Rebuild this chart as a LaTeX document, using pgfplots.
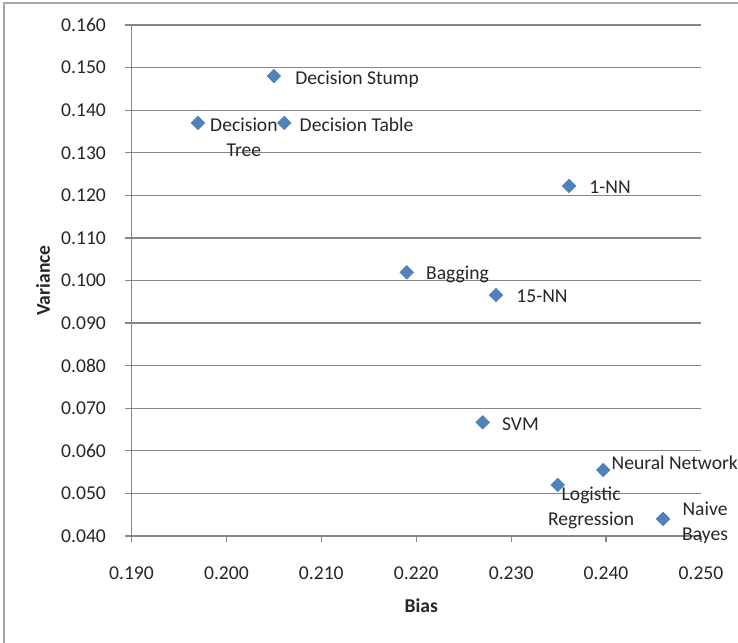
\documentclass[border=0pt]{standalone}
\usepackage{fontspec}
\setmainfont{Carlito}
\usepackage{pgfplots}
\pgfplotsset{compat=1.18}
\definecolor{mk}{HTML}{4F81BD}
\definecolor{gl}{HTML}{868686}
\definecolor{fr}{HTML}{A6A6A6}
\newcommand\fsz{\fontsize{9.8}{12.5}\selectfont}
\begin{document}
\begin{tikzpicture}
\useasboundingbox (0,0) rectangle (369pt,-321pt);
\draw[fr, line width=0.8pt] (2pt,-322pt) -- (2pt,-1.5pt) -- (370pt,-1.5pt);
\begin{axis}[
  at={(65.75pt,-268pt)}, anchor=south west,
  width=284.75pt, height=255.5pt, scale only axis,
  xmin=0.19, xmax=0.25, ymin=0.04, ymax=0.16,
  axis lines=left, axis line style={gl, line width=0.6pt, -},
  clip=false,
  xtick={0.19,0.20,0.21,0.22,0.23,0.24,0.25},
  xticklabels={0.190,0.200,0.210,0.220,0.230,0.240,0.250},
  ytick={0.04,0.05,0.06,0.07,0.08,0.09,0.10,0.11,0.12,0.13,0.14,0.15,0.16},
  yticklabels={0.040,0.050,0.060,0.070,0.080,0.090,0.100,0.110,0.120,0.130,0.140,0.150,0.160},
  tick align=outside, major tick length=3pt,
  tick style={gl, line width=0.6pt},
  ymajorgrids, major grid style={gl, line width=0.6pt},
  xticklabel style={font=\fsz, anchor=center, inner sep=0pt, yshift=-15.5pt, text=black!85},
  yticklabel style={font=\fsz, anchor=east, inner sep=0pt, xshift=-9.6pt, text=black!85},
  xlabel={Bias}, ylabel={Variance},
  every axis x label/.style={at={([xshift=2.5pt,yshift=-35pt]axis description cs:0.5,0)}, anchor=center, font=\fsz\bfseries, text=black!85},
  every axis y label/.style={at={([xshift=-44.25pt]axis description cs:0,0.5)}, anchor=center, rotate=90, font=\fsz\bfseries, text=black!85},
]
\addplot[only marks, mark=square*, mark size=2.4pt,
  mark options={rotate=45, fill=mk, draw=mk, line width=0.3pt}] coordinates {
  (0.2050,0.1480)
  (0.1970,0.1370)
  (0.2061,0.1370)
  (0.2361,0.1222)
  (0.2190,0.1019)
  (0.2284,0.0966)
  (0.2270,0.0667)
  (0.2397,0.0555)
  (0.2349,0.0520)
  (0.2460,0.0440)
};
\begin{scope}[every node/.style={font=\fsz, text=black!85, inner sep=0pt}]
\node[anchor=west, xshift=10.5pt, yshift=-1.8pt] at (axis cs:0.2050,0.1480) {Decision Stump};
\node[anchor=west, xshift=7.5pt, yshift=-0.8pt] at (axis cs:0.2061,0.1370) {Decision Table};
\node[align=center, xshift=23pt, yshift=-7pt] at (axis cs:0.1970,0.1370) {Decision\\Tree};
\node[anchor=west, xshift=10pt, yshift=-0.8pt] at (axis cs:0.2361,0.1222) {1-NN};
\node[anchor=west, xshift=9.5pt, yshift=-0.8pt] at (axis cs:0.2190,0.1019) {Bagging};
\node[anchor=west, xshift=10pt, yshift=-0.8pt] at (axis cs:0.2284,0.0966) {15-NN};
\node[anchor=west, xshift=9.5pt, yshift=-0.8pt] at (axis cs:0.2270,0.0667) {SVM};
\node[anchor=west, xshift=4pt, yshift=3.7pt] at (axis cs:0.2397,0.0555) {Neural Network};
\node[align=center, xshift=16.75pt, yshift=-11.5pt] at (axis cs:0.2349,0.0520) {Logistic\\Regression};
\node[align=center, xshift=21pt, yshift=-1.8pt] at (axis cs:0.2460,0.0440) {Naive\\Bayes};
\end{scope}
\end{axis}
\end{tikzpicture}
\end{document}
